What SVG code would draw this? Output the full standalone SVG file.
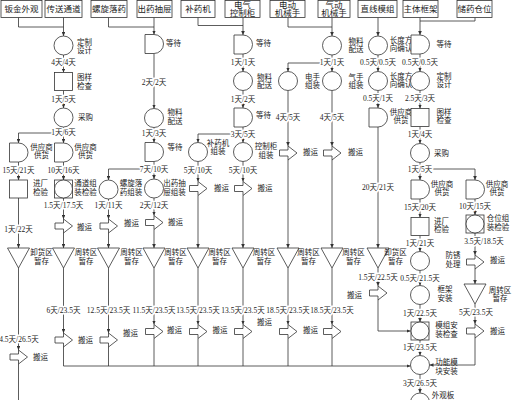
<svg xmlns="http://www.w3.org/2000/svg" xmlns:xlink="http://www.w3.org/1999/xlink" width="512" height="400" viewBox="0 0 512 400">
<style>
.n{fill:#fff;stroke:#333;stroke-width:0.8}
.c{fill:none;stroke:#333;stroke-width:0.8}
.a{marker-end:url(#ah)}
.t{font-family:"Liberation Serif","Noto Sans CJK SC",serif;font-size:7.5px;fill:#222}
.m{text-anchor:middle}
.d{paint-order:stroke;stroke:#fff;stroke-width:3px;stroke-linejoin:round}
.b{font-size:8.5px}
</style>
<defs>
<marker id="ah" viewBox="0 0 4 3.6" refX="4" refY="1.8" markerWidth="4" markerHeight="3.6" orient="auto" markerUnits="userSpaceOnUse"><path d="M0,0L4,1.8L0,3.6Z" fill="#333"/></marker>
<circle id="ci" class="n" r="9.5"/>
<rect id="sq" class="n" x="-9" y="-9" width="18" height="18"/>
<g id="sc"><rect class="n" x="-9" y="-9" width="18" height="18"/><circle class="n" r="9"/></g>
<path id="dl" class="n" d="M-9,-9.5H0A9.5,9.5 0 0 1 0,9.5H-9Z"/>
<path id="tr" class="n" d="M-11,-10H11L0,10Z"/>
<path id="mv" class="n" d="M-8.5,-3H0V-7L9,0L0,7V3H-8.5Z"/>
</defs>
<rect width="512" height="400" fill="#fff"/>

<g id="connectors">
<path class="c" d="M18.5,17.5V27H63.5"/>
<path class="c a" d="M63.5,17.5V36"/>
<path class="c" d="M108.5,17.5V27H154"/>
<path class="c a" d="M154,17.5V34.5"/>
<path class="c" d="M198,17.5V25.5H243"/>
<path class="c a" d="M243,17.5V35"/>
<path class="c" d="M288,17.5V27H332"/>
<path class="c a" d="M332,17.5V36"/>
<path class="c a" d="M378,17.5V36"/>
<path class="c" d="M475,17.5V21H420"/>
<path class="c a" d="M420,17.5V35"/>

<path class="c a" d="M63.5,55V72.5"/>
<path class="c a" d="M63.5,90.5V108"/>
<path class="c a" d="M63.5,127V143"/>
<path class="c a" d="M63.5,133H18.5V143"/>
<path class="c a" d="M63.5,162V180"/>
<path class="c a" d="M63.5,198V219"/>
<path class="c a" d="M63.5,233V248"/>
<path class="c a" d="M63.5,268V333"/>
<path class="c a" d="M63.5,347V366H410.5"/>

<path class="c a" d="M18.5,162V180"/>
<path class="c a" d="M18.5,198V248"/>
<path class="c a" d="M18.5,268V350"/>
<path class="c" d="M18.5,364V400"/>

<path class="c a" d="M154,169H108.5V180"/>
<path class="c a" d="M108.5,199V219"/>
<path class="c a" d="M108.5,233V248"/>
<path class="c a" d="M108.5,268V333"/>
<path class="c" d="M108.5,347V366"/>

<path class="c a" d="M154,54V108.5"/>
<path class="c a" d="M154,127.5V142.5"/>
<path class="c a" d="M154,161.5V179"/>
<path class="c a" d="M154,198V215.5"/>
<path class="c a" d="M154,229.5V248"/>
<path class="c a" d="M154,268V324.5"/>
<path class="c" d="M154,338.5V366"/>

<path class="c a" d="M243,134H198V142.5"/>
<path class="c a" d="M198,161.5V181.5"/>
<path class="c a" d="M198,195.5V248"/>
<path class="c a" d="M198,268V324.5"/>
<path class="c" d="M198,338.5V366"/>

<path class="c a" d="M243,54V71.5"/>
<path class="c a" d="M243,90.5V108"/>
<path class="c a" d="M243,127V142.5"/>
<path class="c a" d="M243,161.5V181.5"/>
<path class="c a" d="M243,195.5V248"/>
<path class="c a" d="M243,268V324.5"/>
<path class="c" d="M243,338.5V366"/>

<path class="c a" d="M332,63H288V71.5"/>
<path class="c a" d="M288,90.5V146"/>
<path class="c a" d="M288,160V248"/>
<path class="c a" d="M288,268V324.5"/>
<path class="c" d="M288,338.5V366"/>

<path class="c a" d="M332,55V71.5"/>
<path class="c a" d="M332,90.5V146"/>
<path class="c a" d="M332,160V248"/>
<path class="c a" d="M332,268V324.5"/>
<path class="c" d="M332,338.5V366"/>

<path class="c a" d="M378,55V71.5"/>
<path class="c a" d="M378,90.5V108"/>
<path class="c a" d="M378,127V248"/>
<path class="c a" d="M378,268V286"/>
<path class="c a" d="M378,300V331H410.5"/>

<path class="c a" d="M420,54V71.5"/>
<path class="c a" d="M420,90.5V108.5"/>
<path class="c a" d="M420,126.5V143.5"/>
<path class="c a" d="M420,162.5V180"/>
<path class="c a" d="M420,169H475V180"/>
<path class="c a" d="M420,199V217.5"/>
<path class="c a" d="M420,235.5V251.5"/>
<path class="c a" d="M420,270.5V285.5"/>
<path class="c a" d="M420,304.5V322"/>
<path class="c a" d="M420,340V355.5"/>
<path class="c a" d="M420,374.5V393"/>

<path class="c a" d="M475,199V215"/>
<path class="c a" d="M475,233V255"/>
<path class="c a" d="M475,269V284"/>
<path class="c a" d="M475,304V324"/>
<path class="c a" d="M475,338V365H429.5"/>
</g>

<g id="times" class="t m d">
<text x="18.5" y="172.7">15天/21天</text>
<text x="18.5" y="231.7">1天/22天</text>
<text x="19" y="341.7">4.5天/26.5天</text>
<text x="63.5" y="64.7">4天/4天</text>
<text x="63.5" y="101.7">1天/5天</text>
<text x="63.5" y="135.2">1天/6天</text>
<text x="63.5" y="172.7">10天/16天</text>
<text x="63.5" y="207.7">1.5天/17.5天</text>
<text x="63.5" y="312.7">6天/23.5天</text>
<text x="108.5" y="207.7">1天/11天</text>
<text x="108.5" y="312.7">12.5天/23.5天</text>
<text x="154" y="84.7">2天/2天</text>
<text x="154" y="135.7">1天/3天</text>
<text x="154" y="171.7">7天/10天</text>
<text x="154" y="207.7">2天/12天</text>
<text x="154" y="312.7">11.5天/23.5天</text>
<text x="198" y="172.7">5天/10天</text>
<text x="198" y="312.7">13.5天/23.5天</text>
<text x="243" y="64.7">1天/1天</text>
<text x="243" y="101.7">1天/2天</text>
<text x="243" y="136.7">3天/5天</text>
<text x="243" y="172.7">5天/10天</text>
<text x="243" y="312.7">13.5天/23.5天</text>
<text x="288" y="119.7">4天/5天</text>
<text x="288" y="312.7">18.5天/23.5天</text>
<text x="332" y="64.7">1天/1天</text>
<text x="332" y="119.7">4天/5天</text>
<text x="332" y="312.7">18.5天/23.5天</text>
<text x="378" y="64.7">0.5天/0.5天</text>
<text x="378" y="100.7">0.5天/1天</text>
<text x="378" y="189.7">20天/21天</text>
<text x="378" y="279.7">1.5天/22.5天</text>
<text x="420" y="64.7">0.5天/0.5天</text>
<text x="420" y="100.7">2.5天/3天</text>
<text x="420" y="136.7">1天/4天</text>
<text x="420" y="171.7">1天/5天</text>
<text x="420" y="209.7">15天/20天</text>
<text x="420" y="245.7">1天/21天</text>
<text x="420" y="280.7">0.5天/21.5天</text>
<text x="420" y="315.7">1天/22.5天</text>
<text x="420" y="350.2">1天/23.5天</text>
<text x="420" y="385.7">3天/26.5天</text>
<text x="475" y="208.7">10天/15天</text>
<text x="484" y="243.7">3.5天/18.5天</text>
<text x="476" y="314.7">5天/23.5天</text>
</g>

<g id="top-boxes" class="t m b">
<g id="box-banjin"><rect class="n" x="1" y="0.5" width="41" height="17"/><text x="21.5" y="12">钣金外观</text></g>
<g id="box-chuansong"><rect class="n" x="45" y="0.5" width="37" height="17"/><text x="63.5" y="12">传送通道</text></g>
<g id="box-luoxuan"><rect class="n" x="91" y="0.5" width="36" height="17"/><text x="109" y="12">螺旋落药</text></g>
<g id="box-chouti"><rect class="n" x="137" y="0.5" width="35" height="17"/><text x="154.5" y="12">出药抽屉</text></g>
<g id="box-buyao"><rect class="n" x="181" y="0.5" width="34" height="17"/><text x="198" y="12">补药机</text></g>
<g id="box-dianqi"><rect class="n" x="225" y="0.5" width="35" height="17"/><text x="242.5" y="7.5">电气</text><text x="242.5" y="16">控制柜</text></g>
<g id="box-diandong"><rect class="n" x="270" y="0.5" width="35" height="17"/><text x="287.5" y="7.5">电动</text><text x="287.5" y="16">机械手</text></g>
<g id="box-qidong"><rect class="n" x="318" y="0.5" width="32" height="17"/><text x="334" y="7.5">气动</text><text x="334" y="16">机械手</text></g>
<g id="box-zhixian"><rect class="n" x="358" y="0.5" width="39" height="17"/><text x="377.5" y="12">直线模组</text></g>
<g id="box-zhuti"><rect class="n" x="403" y="0.5" width="35" height="17"/><text x="420.5" y="12">主体框架</text></g>
<g id="box-chucang"><rect class="n" x="457" y="0.5" width="35" height="17"/><text x="474.5" y="12">储药仓位</text></g>
</g>

<g class="t m">
<g id="A1"><use href="#dl" x="18.5" y="152.5"/><text x="41.5" y="149.7">供应商<tspan x="41.5" dy="8.5">供货</tspan></text></g>
<g id="A2"><use href="#sq" x="18.5" y="189"/><text x="40.5" y="186.2">进厂<tspan x="40.5" dy="8.5">检验</tspan></text></g>
<g id="A3"><use href="#tr" x="18.5" y="258"/><text x="41.5" y="255">卸货区<tspan x="41.5" dy="8.5">暂存</tspan></text></g>
<g id="A4"><use href="#mv" x="18.5" y="357"/><text x="40.5" y="359.7">搬运</text></g>

<g id="B1"><use href="#ci" x="63.5" y="45.5"/><text x="84.5" y="44.5">定制<tspan x="84.5" dy="8.5">设计</tspan></text></g>
<g id="B2"><use href="#sq" x="63.5" y="81.5"/><text x="84.5" y="80">图样<tspan x="84.5" dy="8.5">检查</tspan></text></g>
<g id="B3"><use href="#ci" x="63.5" y="117.5"/><text x="85.5" y="120.2">采购</text></g>
<g id="B4"><use href="#dl" x="63.5" y="152.5"/><text x="85.5" y="149.7">供应商<tspan x="85.5" dy="8.5">供货</tspan></text></g>
<g id="B5"><use href="#sc" x="63.5" y="189"/><text x="85.5" y="186.2">通道组<tspan x="85.5" dy="8.5">装检验</tspan></text></g>
<g id="B6"><use href="#mv" x="63.5" y="226"/><text x="84.5" y="230.2">搬运</text></g>
<g id="B7"><use href="#tr" x="63.5" y="258"/><text x="86" y="255">周转区<tspan x="86" dy="8.5">暂存</tspan></text></g>
<g id="B8"><use href="#mv" x="63.5" y="340"/><text x="85.5" y="342.7">搬运</text></g>

<g id="C1"><use href="#ci" x="108.5" y="189.5"/><text x="131" y="186.2">螺旋落<tspan x="131" dy="8.5">药组装</tspan></text></g>
<g id="C2"><use href="#mv" x="108.5" y="226"/><text x="131.5" y="225.5">搬运</text></g>
<g id="C3"><use href="#tr" x="108.5" y="258"/><text x="131.5" y="255">周转区<tspan x="131.5" dy="8.5">暂存</tspan></text></g>
<g id="C4"><use href="#mv" x="108.5" y="340"/><text x="130.5" y="335.7">搬运</text></g>

<g id="D1"><use href="#dl" x="154" y="44"/><text x="173.5" y="46">等待</text></g>
<g id="D2"><use href="#ci" x="154" y="118"/><text x="175" y="115">物料<tspan x="175" dy="8.5">配送</tspan></text></g>
<g id="D3"><use href="#dl" x="154" y="152"/><text x="175" y="150">等待</text></g>
<g id="D4"><use href="#ci" x="154" y="188.5"/><text x="174.5" y="186">出药抽<tspan x="174.5" dy="8.5">屉组装</tspan></text></g>
<g id="D5"><use href="#mv" x="154" y="222.5"/><text x="175.5" y="224.7">搬运</text></g>
<g id="D6"><use href="#tr" x="154" y="258"/><text x="175.5" y="255">周转区<tspan x="175.5" dy="8.5">暂存</tspan></text></g>
<g id="D7"><use href="#mv" x="154" y="331.5"/><text x="174.5" y="332.7">搬运</text></g>

<g id="E1"><use href="#ci" x="198" y="152"/><text x="218" y="145.7">补药机<tspan x="218" dy="8.5">组装</tspan></text></g>
<g id="E2"><use href="#mv" x="198" y="188.5"/><text x="221.5" y="190.7">搬运</text></g>
<g id="E3"><use href="#tr" x="198" y="258"/><text x="219.5" y="255">周转区<tspan x="219.5" dy="8.5">暂存</tspan></text></g>
<g id="E4"><use href="#mv" x="198" y="331.5"/><text x="220" y="332.7">搬运</text></g>

<g id="F1"><use href="#dl" x="243" y="44.5"/><text x="263.5" y="46">等待</text></g>
<g id="F2"><use href="#ci" x="243" y="81"/><text x="264.5" y="79.7">物料<tspan x="264.5" dy="8.5">配送</tspan></text></g>
<g id="F3"><use href="#dl" x="243" y="117.5"/><text x="263.5" y="118">等待</text></g>
<g id="F4"><use href="#ci" x="243" y="152"/><text x="266" y="149.4">控制柜<tspan x="266" dy="8.5">组装</tspan></text></g>
<g id="F5"><use href="#mv" x="243" y="188.5"/><text x="265" y="190.7">搬运</text></g>
<g id="F6"><use href="#tr" x="243" y="258"/><text x="264" y="255">周转区<tspan x="264" dy="8.5">暂存</tspan></text></g>
<g id="F7"><use href="#mv" x="243" y="331.5"/><text x="264.5" y="324.7">搬运</text></g>

<g id="G1"><use href="#ci" x="288" y="81"/><text x="312.5" y="79.7">电手<tspan x="312.5" dy="8.5">组装</tspan></text></g>
<g id="G2"><use href="#mv" x="288" y="153"/><text x="310.5" y="154.7">搬运</text></g>
<g id="G3"><use href="#tr" x="288" y="258"/><text x="308.5" y="255">周转区<tspan x="308.5" dy="8.5">暂存</tspan></text></g>
<g id="G4"><use href="#mv" x="288" y="331.5"/><text x="310.5" y="332.7">搬运</text></g>

<g id="H1"><use href="#ci" x="332" y="45.5"/><text x="356" y="43.7">物料<tspan x="356" dy="8.5">配送</tspan></text></g>
<g id="H2"><use href="#ci" x="332" y="81"/><text x="356" y="79.7">气手<tspan x="356" dy="8.5">组装</tspan></text></g>
<g id="H3"><use href="#mv" x="332" y="153"/><text x="355.5" y="154.7">搬运</text></g>
<g id="H4"><use href="#tr" x="332" y="258"/><text x="353.5" y="255">周转区<tspan x="353.5" dy="8.5">暂存</tspan></text></g>
<g id="H5"><use href="#mv" x="332" y="331.5"/></g>

<g id="I1"><use href="#ci" x="378" y="45.5"/><text x="401" y="42.7">长度方<tspan x="401" dy="8.5">向确认</tspan></text></g>
<g id="I2"><use href="#ci" x="378" y="81"/><text x="401" y="78.7">长度方<tspan x="401" dy="8.5">向确认</tspan></text></g>
<g id="I3"><use href="#dl" x="378" y="117.5"/><text x="401" y="114.7">供应商<tspan x="401" dy="8.5">供货</tspan></text></g>
<g id="I4"><use href="#tr" x="378" y="258"/><text x="395.5" y="255">卸货区<tspan x="395.5" dy="8.5">暂存</tspan></text></g>
<g id="I5"><use href="#mv" x="378" y="293"/><text x="354.5" y="297.5">搬运</text></g>

<g id="J1"><use href="#dl" x="420" y="44.5"/><text x="444" y="47">等待</text></g>
<g id="J2"><use href="#ci" x="420" y="81"/><text x="444" y="78.7">定制<tspan x="444" dy="8.5">设计</tspan></text></g>
<g id="J3"><use href="#sq" x="420" y="117.5"/><text x="444" y="114.7">图样<tspan x="444" dy="8.5">检查</tspan></text></g>
<g id="J4"><use href="#ci" x="420" y="153"/><text x="441.5" y="155.7">采购</text></g>
<g id="J5"><use href="#dl" x="420" y="189.5"/><text x="442" y="186.7">供应商<tspan x="442" dy="8.5">供货</tspan></text></g>
<g id="J6"><use href="#sq" x="420" y="226.5"/><text x="441.5" y="223.7">进厂<tspan x="441.5" dy="8.5">检验</tspan></text></g>
<g id="J7"><use href="#ci" x="420" y="261"/><text x="453" y="258.2">防锈<tspan x="453" dy="8.5">处理</tspan></text></g>
<g id="J8"><use href="#ci" x="420" y="295"/><text x="445" y="292.2">框架<tspan x="445" dy="8.5">安装</tspan></text></g>
<g id="J9"><use href="#sc" x="420" y="331"/><text x="446.5" y="328.2">模组安<tspan x="446.5" dy="8.5">装检查</tspan></text></g>
<g id="J10"><use href="#ci" x="420" y="365"/><text x="446.5" y="364.5">功能模<tspan x="446.5" dy="9">块安装</tspan></text></g>
<g id="J11"><use href="#ci" x="420" y="402.5"/><text x="443" y="398">外观板</text></g>

<g id="K1"><use href="#dl" x="475" y="189.5"/><text x="497" y="186.7">供应商<tspan x="497" dy="8.5">供货</tspan></text></g>
<g id="K2"><use href="#sc" x="475" y="224"/><text x="498" y="221.2">仓位组<tspan x="498" dy="8.5">装检验</tspan></text></g>
<g id="K3"><use href="#mv" x="475" y="262"/><text x="497.5" y="262.7">搬运</text></g>
<g id="K4"><use href="#tr" x="475" y="294"/><text x="500" y="292.7">周转区<tspan x="500" dy="8.5">暂存</tspan></text></g>
<g id="K5"><use href="#mv" x="475" y="331"/><text x="497.5" y="333.7">搬运</text></g>
</g>
</svg>
